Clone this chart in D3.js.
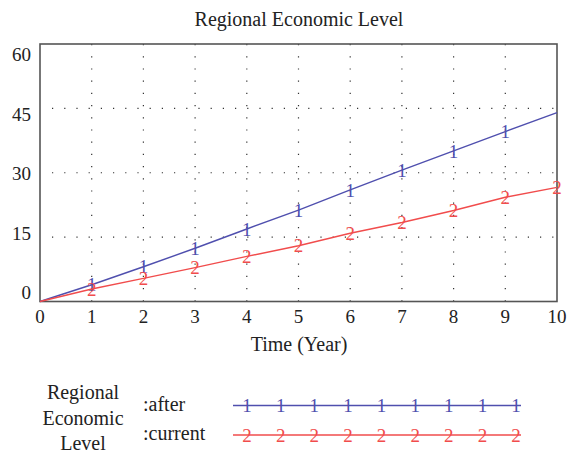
<!DOCTYPE html>
<html>
<head>
<meta charset="utf-8">
<script src="https://cdn.jsdelivr.net/npm/d3@7"></script>
<style>
  body { margin: 0; background: #fff; }
  svg text { fill: #222; }
</style>
</head>
<body>
<svg id="chart" width="570" height="453" font-family="'Liberation Serif', 'DejaVu Serif', serif"></svg>
<script>
// values
let years = [0, 1, 2, 3, 4, 5, 6, 7, 8, 9, 10],
    after = [0, 3.9, 8.1, 12.4, 16.9, 21.3, 26.0, 30.6, 35.1, 39.6, 44.0],
    current = [0, 2.9, 5.4, 7.9, 10.5, 13.0, 15.9, 18.4, 21.2, 24.3, 26.6],
    yTicks = [0, 15, 30, 45, 60],
    xTicks = [0, 1, 2, 3, 4, 5, 6, 7, 8, 9, 10],
    legendNames = [":after", ":current"],
    legendMarks = ["1", "2"],
    title = "Regional Economic Level",
    xTitle = "Time (Year)",
    legendTitle = ["Regional", "Economic", "Level"];

let blue = "#4f4fae",
    red = "#f14c4c",
    axisColor = "#555";

let svg = d3.select("#chart");

let x = d3.scaleLinear().domain([0, 10]).range([40, 557]),
    y = d3.scaleLinear().domain([0, 60]).range([301.5, 44]),
    // tick labels sit slightly off the grid lines, like the original
    yLab = d3.scaleLinear().domain([0, 60]).range([299, 61]);

// dotted grid
let grid = svg.append("g")
  .attr("stroke", "#333")
  .attr("stroke-width", 1.2)
  .attr("stroke-dasharray", "1.2,11");

grid.selectAll("line.v")
  .data(xTicks.slice(1, -1)).enter()
  .append("line")
  .attr("class", "v")
  .attr("x1", d => x(d)).attr("x2", d => x(d))
  .attr("y1", y(60)).attr("y2", y(0));

grid.selectAll("line.h")
  .data(yTicks.slice(1, -1)).enter()
  .append("line")
  .attr("class", "h")
  .attr("x1", x(0) + 12).attr("x2", x(10))
  .attr("y1", d => y(d)).attr("y2", d => y(d));

// frame
svg.append("rect")
  .attr("x", x(0)).attr("y", y(60))
  .attr("width", x(10) - x(0)).attr("height", y(0) - y(60))
  .attr("fill", "none")
  .attr("stroke", axisColor)
  .attr("stroke-width", 1.6);

// tick labels
svg.append("g").selectAll("text")
  .data(xTicks).enter()
  .append("text")
  .attr("x", d => x(d))
  .attr("y", 323)
  .attr("text-anchor", "middle")
  .attr("font-size", 19)
  .text(d => d);

svg.append("g").selectAll("text")
  .data(yTicks).enter()
  .append("text")
  .attr("x", 31)
  .attr("y", d => yLab(d))
  .attr("text-anchor", "end")
  .attr("font-size", 19)
  .text(d => d);

// series
let series = [
  {name: "after", values: after, color: blue, mark: "1", marks: years.slice(1, 10)},
  {name: "current", values: current, color: red, mark: "2", marks: years.slice(1)}
];

let line = d3.line()
  .x((d, i) => x(years[i]))
  .y(d => y(d));

series.forEach(s => {
  svg.append("path")
    .datum(s.values)
    .attr("fill", "none")
    .attr("stroke", s.color)
    .attr("stroke-width", 1.4)
    .attr("d", line);

  svg.append("g").selectAll("text")
    .data(s.marks).enter()
    .append("text")
    .attr("x", d => x(d))
    .attr("y", d => y(s.values[d]))
    .attr("dy", "0.35em")
    .attr("text-anchor", "middle")
    .attr("font-size", 19)
    .style("fill", s.color)
    .text(s.mark);
});

// titles
svg.append("text")
  .attr("x", 299).attr("y", 26)
  .attr("text-anchor", "middle")
  .attr("font-size", 20)
  .text(title);

svg.append("text")
  .attr("x", 299).attr("y", 351)
  .attr("text-anchor", "middle")
  .attr("font-size", 20)
  .text(xTitle);

// legend
svg.append("g").selectAll("text")
  .data(legendTitle).enter()
  .append("text")
  .attr("x", 83)
  .attr("y", (d, i) => 399 + i * 25.5)
  .attr("text-anchor", "middle")
  .attr("font-size", 20)
  .text(d => d);

let legY = d3.scaleLinear().domain([0, 1]).range([405.5, 435]),
    legX = d3.scaleLinear().domain([0, 8]).range([247, 516]);

series.forEach((s, i) => {
  svg.append("text")
    .attr("x", 143)
    .attr("y", legY(i) + 5)
    .attr("font-size", 20)
    .text(legendNames[i]);

  svg.append("line")
    .attr("x1", 233).attr("x2", 521)
    .attr("y1", legY(i)).attr("y2", legY(i))
    .attr("stroke", s.color)
    .attr("stroke-width", 1.4);

  svg.append("g").selectAll("text")
    .data(d3.range(9)).enter()
    .append("text")
    .attr("x", d => legX(d))
    .attr("y", legY(i))
    .attr("dy", "0.35em")
    .attr("text-anchor", "middle")
    .attr("font-size", 19)
    .style("fill", s.color)
    .text(legendMarks[i]);
});
</script>
</body>
</html>
